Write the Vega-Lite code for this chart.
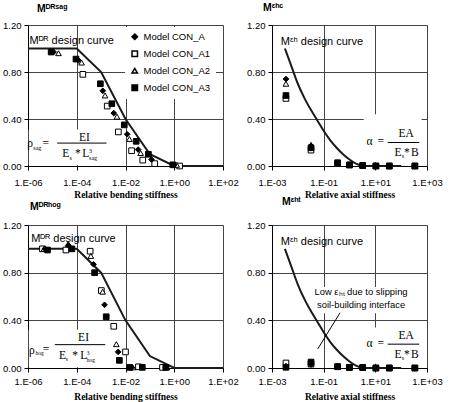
{
  "$schema": "https://vega.github.io/schema/vega-lite/v6.json",
  "background": "white",
  "padding": {"left": 2, "top": 2, "right": 2, "bottom": 2},
  "config": {
    "font": "Liberation Sans",
    "view": {"stroke": null},
    "axis": {
      "domainColor": "black", "domainWidth": 1, "tickColor": "black", "tickSize": 4,
      "gridColor": "#444444", "gridWidth": 1, "gridOpacity": 1,
      "labelFont": "Liberation Sans", "labelFontSize": 9.5, "labelColor": "black",
      "titleFont": "Liberation Sans Narrow", "titleFontSize": 9.5, "titleFontWeight": "bold", "titleColor": "black",
      "labelOverlap": false
    },
    "axisX": {"labelFlush": false, "labelPadding": 7, "titlePadding": 3},
    "axisY": {"labelPadding": 3},
    "title": {"anchor": "start", "frame": "group", "font": "Liberation Sans", "fontSize": 10.5, "fontWeight": "bold", "color": "black"},
    "text": {"color": "black"}
  },
  "datasets": {
    "sag": [
      {"m": "Model CON_A1", "x": 0.000178, "y": 0.78},
      {"m": "Model CON_A1", "x": 0.00178, "y": 0.51},
      {"m": "Model CON_A1", "x": 0.0051, "y": 0.29},
      {"m": "Model CON_A1", "x": 0.0178, "y": 0.13},
      {"m": "Model CON_A1", "x": 0.051, "y": 0.05},
      {"m": "Model CON_A1", "x": 0.158, "y": 0.02},
      {"m": "Model CON_A1", "x": 1.66, "y": 0.0},
      {"m": "Model CON_A2", "x": 0.0000178, "y": 0.96},
      {"m": "Model CON_A2", "x": 0.000158, "y": 0.88},
      {"m": "Model CON_A2", "x": 0.00145, "y": 0.60},
      {"m": "Model CON_A2", "x": 0.00447, "y": 0.42},
      {"m": "Model CON_A2", "x": 0.0145, "y": 0.23},
      {"m": "Model CON_A2", "x": 0.0417, "y": 0.11},
      {"m": "Model CON_A2", "x": 1.26, "y": 0.01},
      {"m": "Model CON_A", "x": 0.0000112, "y": 0.97},
      {"m": "Model CON_A", "x": 0.000117, "y": 0.90},
      {"m": "Model CON_A", "x": 0.00117, "y": 0.64},
      {"m": "Model CON_A", "x": 0.0033, "y": 0.45},
      {"m": "Model CON_A", "x": 0.0117, "y": 0.27},
      {"m": "Model CON_A", "x": 0.033, "y": 0.14},
      {"m": "Model CON_A", "x": 0.117, "y": 0.055},
      {"m": "Model CON_A", "x": 1.0, "y": 0.01},
      {"m": "Model CON_A3", "x": 0.0000089, "y": 0.97},
      {"m": "Model CON_A3", "x": 0.000093, "y": 0.91},
      {"m": "Model CON_A3", "x": 0.00093, "y": 0.70},
      {"m": "Model CON_A3", "x": 0.00275, "y": 0.53},
      {"m": "Model CON_A3", "x": 0.0089, "y": 0.35},
      {"m": "Model CON_A3", "x": 0.0275, "y": 0.21},
      {"m": "Model CON_A3", "x": 0.087, "y": 0.10},
      {"m": "Model CON_A3", "x": 0.87, "y": 0.01}
    ],
    "hog": [
      {"m": "Model CON_A1", "x": 0.0000039, "y": 1.0},
      {"m": "Model CON_A1", "x": 0.000036, "y": 0.99},
      {"m": "Model CON_A1", "x": 0.000355, "y": 0.98},
      {"m": "Model CON_A1", "x": 0.00102, "y": 0.65},
      {"m": "Model CON_A1", "x": 0.0033, "y": 0.35},
      {"m": "Model CON_A1", "x": 0.01, "y": 0.135},
      {"m": "Model CON_A1", "x": 0.034, "y": 0.01},
      {"m": "Model CON_A1", "x": 0.33, "y": 0.005},
      {"m": "Model CON_A2", "x": 0.0000045, "y": 1.0},
      {"m": "Model CON_A2", "x": 0.000045, "y": 1.04},
      {"m": "Model CON_A2", "x": 0.00038, "y": 0.94},
      {"m": "Model CON_A2", "x": 0.00115, "y": 0.64},
      {"m": "Model CON_A2", "x": 0.0042, "y": 0.20},
      {"m": "Model CON_A2", "x": 0.02, "y": 0.005},
      {"m": "Model CON_A2", "x": 0.5, "y": 0.005},
      {"m": "Model CON_A", "x": 0.000005, "y": 1.0},
      {"m": "Model CON_A", "x": 0.000045, "y": 1.03},
      {"m": "Model CON_A", "x": 0.00049, "y": 0.87},
      {"m": "Model CON_A", "x": 0.00138, "y": 0.53},
      {"m": "Model CON_A", "x": 0.005, "y": 0.135},
      {"m": "Model CON_A", "x": 0.0178, "y": 0.005},
      {"m": "Model CON_A", "x": 0.45, "y": 0.005},
      {"m": "Model CON_A3", "x": 0.0000063, "y": 0.99},
      {"m": "Model CON_A3", "x": 0.000063, "y": 1.0},
      {"m": "Model CON_A3", "x": 0.00054, "y": 0.80},
      {"m": "Model CON_A3", "x": 0.00162, "y": 0.43},
      {"m": "Model CON_A3", "x": 0.0056, "y": 0.064},
      {"m": "Model CON_A3", "x": 0.0148, "y": 0.005},
      {"m": "Model CON_A3", "x": 0.049, "y": 0.005},
      {"m": "Model CON_A3", "x": 0.45, "y": 0.005}
    ],
    "hc": [
      {"m": "Model CON_A1", "x": 0.00347, "y": 0.575},
      {"m": "Model CON_A1", "x": 0.0324, "y": 0.135},
      {"m": "Model CON_A1", "x": 0.347, "y": 0.02},
      {"m": "Model CON_A1", "x": 1.0, "y": 0.008},
      {"m": "Model CON_A1", "x": 3.24, "y": 0.003},
      {"m": "Model CON_A1", "x": 10.5, "y": 0.0},
      {"m": "Model CON_A1", "x": 34.7, "y": 0.0},
      {"m": "Model CON_A1", "x": 339, "y": 0.0},
      {"m": "Model CON_A2", "x": 0.00347, "y": 0.70},
      {"m": "Model CON_A2", "x": 0.0324, "y": 0.18},
      {"m": "Model CON_A2", "x": 0.347, "y": 0.025},
      {"m": "Model CON_A2", "x": 1.0, "y": 0.01},
      {"m": "Model CON_A2", "x": 3.24, "y": 0.005},
      {"m": "Model CON_A2", "x": 10.5, "y": 0.0},
      {"m": "Model CON_A2", "x": 34.7, "y": 0.0},
      {"m": "Model CON_A2", "x": 339, "y": 0.0},
      {"m": "Model CON_A", "x": 0.00347, "y": 0.74},
      {"m": "Model CON_A", "x": 0.0324, "y": 0.17},
      {"m": "Model CON_A", "x": 0.347, "y": 0.025},
      {"m": "Model CON_A", "x": 1.0, "y": 0.01},
      {"m": "Model CON_A", "x": 3.24, "y": 0.005},
      {"m": "Model CON_A", "x": 10.5, "y": 0.0},
      {"m": "Model CON_A", "x": 34.7, "y": 0.0},
      {"m": "Model CON_A", "x": 339, "y": 0.0},
      {"m": "Model CON_A3", "x": 0.00347, "y": 0.60},
      {"m": "Model CON_A3", "x": 0.0324, "y": 0.155},
      {"m": "Model CON_A3", "x": 0.347, "y": 0.028},
      {"m": "Model CON_A3", "x": 1.0, "y": 0.01},
      {"m": "Model CON_A3", "x": 3.24, "y": 0.005},
      {"m": "Model CON_A3", "x": 10.5, "y": 0.0},
      {"m": "Model CON_A3", "x": 34.7, "y": 0.0},
      {"m": "Model CON_A3", "x": 339, "y": 0.0}
    ],
    "ht": [
      {"m": "Model CON_A1", "x": 0.00347, "y": 0.042},
      {"m": "Model CON_A1", "x": 0.0324, "y": 0.035},
      {"m": "Model CON_A1", "x": 0.347, "y": 0.01},
      {"m": "Model CON_A1", "x": 1.0, "y": 0.005},
      {"m": "Model CON_A1", "x": 3.24, "y": 0.003},
      {"m": "Model CON_A1", "x": 10.5, "y": 0.0},
      {"m": "Model CON_A1", "x": 34.7, "y": 0.0},
      {"m": "Model CON_A1", "x": 339, "y": 0.0},
      {"m": "Model CON_A2", "x": 0.00347, "y": 0.02},
      {"m": "Model CON_A2", "x": 0.0324, "y": 0.03},
      {"m": "Model CON_A2", "x": 0.347, "y": 0.01},
      {"m": "Model CON_A2", "x": 1.0, "y": 0.005},
      {"m": "Model CON_A2", "x": 3.24, "y": 0.005},
      {"m": "Model CON_A2", "x": 10.5, "y": 0.0},
      {"m": "Model CON_A2", "x": 34.7, "y": 0.0},
      {"m": "Model CON_A2", "x": 339, "y": 0.0},
      {"m": "Model CON_A", "x": 0.00347, "y": 0.01},
      {"m": "Model CON_A", "x": 0.0324, "y": 0.03},
      {"m": "Model CON_A", "x": 0.347, "y": 0.01},
      {"m": "Model CON_A", "x": 1.0, "y": 0.005},
      {"m": "Model CON_A", "x": 3.24, "y": 0.005},
      {"m": "Model CON_A", "x": 10.5, "y": 0.0},
      {"m": "Model CON_A", "x": 34.7, "y": 0.0},
      {"m": "Model CON_A", "x": 339, "y": 0.0},
      {"m": "Model CON_A3", "x": 0.00347, "y": 0.006},
      {"m": "Model CON_A3", "x": 0.0324, "y": 0.05},
      {"m": "Model CON_A3", "x": 0.347, "y": 0.012},
      {"m": "Model CON_A3", "x": 1.0, "y": 0.005},
      {"m": "Model CON_A3", "x": 3.24, "y": 0.005},
      {"m": "Model CON_A3", "x": 10.5, "y": 0.0},
      {"m": "Model CON_A3", "x": 34.7, "y": 0.0},
      {"m": "Model CON_A3", "x": 339, "y": 0.0}
    ],
    "drcurve": [
      {"x": 0.000001, "y": 1.0}, {"x": 0.0001, "y": 1.0}, {"x": 0.001, "y": 0.8},
      {"x": 0.01, "y": 0.4}, {"x": 0.1, "y": 0.1}, {"x": 1, "y": 0.0}, {"x": 100, "y": 0.0}
    ],
    "ehcurve": [
      {"x": 0.00316, "y": 1.0}, {"x": 0.00562, "y": 0.85}, {"x": 0.01, "y": 0.70},
      {"x": 0.0178, "y": 0.58}, {"x": 0.0316, "y": 0.48}, {"x": 0.0562, "y": 0.39},
      {"x": 0.1, "y": 0.30}, {"x": 0.178, "y": 0.22}, {"x": 0.316, "y": 0.155},
      {"x": 0.562, "y": 0.10}, {"x": 1.0, "y": 0.055}, {"x": 1.78, "y": 0.02},
      {"x": 3.16, "y": 0.003}, {"x": 5.62, "y": 0.0}, {"x": 100, "y": 0.0}
    ],
    "boxes": [
      {"p": 1, "x": 0.00000107, "x2": 0.0018, "y": 0.006, "y2": 0.31},
      {"p": 3, "x": 0.00000107, "x2": 0.0022, "y": 0.006, "y2": 0.32},
      {"p": 2, "x": 3.55, "x2": 616, "y": 0.035, "y2": 0.44},
      {"p": 4, "x": 3.55, "x2": 616, "y": 0.035, "y2": 0.34},
      {"p": 4, "x": 0.0457, "x2": 186, "y": 0.46, "y2": 0.68}
    ],
    "rules": [
      {"p": 1, "x": 0.0000158, "x2": 0.00166, "y": 0.195, "y2": 0.195},
      {"p": 3, "x": 0.0000126, "x2": 0.00148, "y": 0.196, "y2": 0.196},
      {"p": 2, "x": 30, "x2": 500, "y": 0.2, "y2": 0.2},
      {"p": 4, "x": 30, "x2": 500, "y": 0.2, "y2": 0.2},
      {"p": 4, "x": 0.43, "x2": 0.059, "y": 0.463, "y2": 0.16}
    ],
    "sans": [
      {"p": 1, "x": 0.00000115, "y": 1.035, "t": "Mᴰᴿ design curve"},
      {"p": 3, "x": 0.00000135, "y": 1.06, "t": "Mᴰᴿ design curve"},
      {"p": 2, "x": 0.0022, "y": 1.03, "t": "Mᵋʰ design curve"},
      {"p": 4, "x": 0.0022, "y": 1.036, "t": "Mᵋʰ design curve"}
    ],
    "anno": [
      {"p": 4, "x": 2.8, "y": 0.64, "t": "Low εₕₜ due to slipping"},
      {"p": 4, "x": 2.8, "y": 0.525, "t": "soil-building interface"}
    ],
    "bigc": [
      {"p": 1, "x": 0.00000123, "y": 0.165, "t": "ρ"},
      {"p": 1, "x": 0.0000054, "y": 0.16, "t": "="},
      {"p": 1, "x": 0.000204, "y": 0.214, "t": "EI"},
      {"p": 1, "x": 0.00011, "y": 0.074, "t": "*"},
      {"p": 3, "x": 0.00000145, "y": 0.116, "t": "ρ"},
      {"p": 3, "x": 0.0000055, "y": 0.126, "t": "="},
      {"p": 3, "x": 0.00019, "y": 0.224, "t": "EI"},
      {"p": 3, "x": 0.000085, "y": 0.072, "t": "*"},
      {"p": 2, "x": 5.9, "y": 0.18, "t": "α"},
      {"p": 2, "x": 16.2, "y": 0.18, "t": "="},
      {"p": 2, "x": 155, "y": 0.244, "t": "EA"},
      {"p": 2, "x": 166, "y": 0.084, "t": "*"},
      {"p": 4, "x": 5.9, "y": 0.18, "t": "α"},
      {"p": 4, "x": 16.2, "y": 0.18, "t": "="},
      {"p": 4, "x": 155, "y": 0.244, "t": "EA"},
      {"p": 4, "x": 166, "y": 0.084, "t": "*"}
    ],
    "bigl": [
      {"p": 1, "x": 0.0000257, "y": 0.074, "t": "E"},
      {"p": 1, "x": 0.00017, "y": 0.074, "t": "L"},
      {"p": 3, "x": 0.0000186, "y": 0.072, "t": "E"},
      {"p": 3, "x": 0.000138, "y": 0.072, "t": "L"},
      {"p": 2, "x": 55, "y": 0.084, "t": "E"},
      {"p": 2, "x": 240, "y": 0.084, "t": "B"},
      {"p": 4, "x": 55, "y": 0.084, "t": "E"},
      {"p": 4, "x": 240, "y": 0.084, "t": "B"}
    ],
    "small": [
      {"p": 1, "x": 0.00000166, "y": 0.14, "t": "sag"},
      {"p": 1, "x": 0.00005, "y": 0.055, "t": "s"},
      {"p": 1, "x": 0.00032, "y": 0.11, "t": "3"},
      {"p": 1, "x": 0.00032, "y": 0.05, "t": "sag"},
      {"p": 3, "x": 0.00000205, "y": 0.106, "t": "hog"},
      {"p": 3, "x": 0.000035, "y": 0.055, "t": "s"},
      {"p": 3, "x": 0.00026, "y": 0.11, "t": "3"},
      {"p": 3, "x": 0.00026, "y": 0.048, "t": "hog"},
      {"p": 2, "x": 105, "y": 0.065, "t": "s"},
      {"p": 4, "x": 105, "y": 0.065, "t": "s"}
    ]
  },
  "columns": 2,
  "bounds": "flush",
  "spacing": {"row": 59, "column": 49},
  "resolve": {
    "scale": {"shape": "independent", "fill": "independent"},
    "legend": {"shape": "independent", "fill": "independent"}
  },
  "concat": [
    {
      "width": 195, "height": 141,
      "title": {"text": "Mᴰᴿˢᵃᵍ", "dx": 9, "offset": 6},
      "layer": [
        {
          "data": {"name": "boxes"},
          "transform": [{"filter": "datum.p == 1"}],
          "mark": {"type": "rect", "fill": "white"},
          "encoding": {
            "x": {"field": "x", "type": "quantitative", "scale": {"type": "log", "domain": [0.000001, 100], "nice": false},
              "axis": {"title": "Relative bending stiffness", "values": [0.000001, 0.0001, 0.01, 1, 100], "grid": true,
                "labelExpr": "datum.value < 0.00001 ? '1.E-06' : datum.value < 0.001 ? '1.E-04' : datum.value < 0.1 ? '1.E-02' : datum.value < 10 ? '1.E+00' : '1.E+02'"}},
            "x2": {"field": "x2"},
            "y": {"field": "y", "type": "quantitative", "scale": {"domain": [0, 1.2], "nice": false, "zero": false},
              "axis": {"title": null, "values": [0, 0.2, 0.4, 0.6, 0.8, 1, 1.2], "format": ".2f", "grid": true}},
            "y2": {"field": "y2"}
          }
        },
        {
          "data": {"name": "drcurve"},
          "mark": {"type": "line", "color": "#1a1a1a", "strokeWidth": 2},
          "encoding": {
            "x": {"field": "x", "type": "quantitative"},
            "y": {"field": "y", "type": "quantitative"}
          }
        },
        {
          "data": {"name": "sag"},
          "mark": {"type": "point", "filled": true, "stroke": "black", "strokeWidth": 1, "size": 32, "opacity": 1},
          "encoding": {
            "x": {"field": "x", "type": "quantitative"},
            "y": {"field": "y", "type": "quantitative"},
            "shape": {"field": "m", "type": "nominal",
              "scale": {"domain": ["Model CON_A", "Model CON_A1", "Model CON_A2", "Model CON_A3"], "range": ["diamond", "square", "triangle-up", "square"]},
              "legend": {"orient": "none", "legendX": 97, "legendY": 2, "title": null, "fillColor": "white", "padding": 5,
                "labelFont": "Liberation Sans", "labelFontSize": 9.5, "labelColor": "black", "symbolSize": 30, "rowPadding": 5,
                "labelOffset": 4,
                "encode": {"symbols": {"update": {"stroke": {"value": "black"}, "strokeWidth": {"value": 1}}}}}},
            "fill": {"field": "m", "type": "nominal",
              "scale": {"domain": ["Model CON_A", "Model CON_A1", "Model CON_A2", "Model CON_A3"], "range": ["black", "white", "white", "black"]},
              "legend": {"orient": "none", "legendX": 97, "legendY": 2, "title": null, "fillColor": "white", "padding": 5,
                "labelFont": "Liberation Sans", "labelFontSize": 9.5, "labelColor": "black", "symbolSize": 30, "rowPadding": 5,
                "labelOffset": 4,
                "encode": {"symbols": {"update": {"stroke": {"value": "black"}, "strokeWidth": {"value": 1}}}}}}
          }
        },
        {
          "data": {"name": "sans"},
          "transform": [{"filter": "datum.p == 1"}],
          "mark": {"type": "text", "font": "Liberation Sans", "fontSize": 11, "align": "left", "baseline": "alphabetic"},
          "encoding": {"x": {"field": "x", "type": "quantitative"}, "y": {"field": "y", "type": "quantitative"}, "text": {"field": "t"}}
        },
        {
          "data": {"name": "bigc"},
          "transform": [{"filter": "datum.p == 1"}],
          "mark": {"type": "text", "font": "Liberation Serif", "fontSize": 11.5, "align": "center", "baseline": "alphabetic"},
          "encoding": {"x": {"field": "x", "type": "quantitative"}, "y": {"field": "y", "type": "quantitative"}, "text": {"field": "t"}}
        },
        {
          "data": {"name": "bigl"},
          "transform": [{"filter": "datum.p == 1"}],
          "mark": {"type": "text", "font": "Liberation Serif", "fontSize": 11.5, "align": "left", "baseline": "alphabetic"},
          "encoding": {"x": {"field": "x", "type": "quantitative"}, "y": {"field": "y", "type": "quantitative"}, "text": {"field": "t"}}
        },
        {
          "data": {"name": "small"},
          "transform": [{"filter": "datum.p == 1"}],
          "mark": {"type": "text", "font": "Liberation Serif", "fontSize": 6, "align": "left", "baseline": "alphabetic"},
          "encoding": {"x": {"field": "x", "type": "quantitative"}, "y": {"field": "y", "type": "quantitative"}, "text": {"field": "t"}}
        },
        {
          "data": {"name": "rules"},
          "transform": [{"filter": "datum.p == 1"}],
          "mark": {"type": "rule", "color": "black", "strokeWidth": 1},
          "encoding": {"x": {"field": "x", "type": "quantitative"}, "x2": {"field": "x2"}, "y": {"field": "y", "type": "quantitative"}, "y2": {"field": "y2"}}
        }
      ]
    },
    {
      "width": 155, "height": 141,
      "title": {"text": "Mᵋʰᶜ", "dx": -9, "offset": 7},
      "layer": [
        {
          "data": {"name": "boxes"},
          "transform": [{"filter": "datum.p == 2"}],
          "mark": {"type": "rect", "fill": "white"},
          "encoding": {
            "x": {"field": "x", "type": "quantitative", "scale": {"type": "log", "domain": [0.001, 1000], "nice": false},
              "axis": {"title": "Relative axial stiffness", "values": [0.001, 0.1, 10, 1000], "grid": true,
                "labelExpr": "datum.value < 0.01 ? '1.E-03' : datum.value < 1 ? '1.E-01' : datum.value < 100 ? '1.E+01' : '1.E+03'"}},
            "x2": {"field": "x2"},
            "y": {"field": "y", "type": "quantitative", "scale": {"domain": [0, 1.2], "nice": false, "zero": false},
              "axis": {"title": null, "values": [0, 0.2, 0.4, 0.6, 0.8, 1, 1.2], "format": ".2f", "grid": true}},
            "y2": {"field": "y2"}
          }
        },
        {
          "data": {"name": "ehcurve"},
          "mark": {"type": "line", "color": "#1a1a1a", "strokeWidth": 2, "interpolate": "monotone"},
          "encoding": {
            "x": {"field": "x", "type": "quantitative"},
            "y": {"field": "y", "type": "quantitative"}
          }
        },
        {
          "data": {"name": "hc"},
          "mark": {"type": "point", "filled": true, "stroke": "black", "strokeWidth": 1, "size": 32, "opacity": 1},
          "encoding": {
            "x": {"field": "x", "type": "quantitative"},
            "y": {"field": "y", "type": "quantitative"},
            "shape": {"field": "m", "type": "nominal", "legend": null,
              "scale": {"domain": ["Model CON_A", "Model CON_A1", "Model CON_A2", "Model CON_A3"], "range": ["diamond", "square", "triangle-up", "square"]}},
            "fill": {"field": "m", "type": "nominal", "legend": null,
              "scale": {"domain": ["Model CON_A", "Model CON_A1", "Model CON_A2", "Model CON_A3"], "range": ["black", "white", "white", "black"]}}
          }
        },
        {
          "data": {"name": "sans"},
          "transform": [{"filter": "datum.p == 2"}],
          "mark": {"type": "text", "font": "Liberation Sans", "fontSize": 11, "align": "left", "baseline": "alphabetic"},
          "encoding": {"x": {"field": "x", "type": "quantitative"}, "y": {"field": "y", "type": "quantitative"}, "text": {"field": "t"}}
        },
        {
          "data": {"name": "bigc"},
          "transform": [{"filter": "datum.p == 2"}],
          "mark": {"type": "text", "font": "Liberation Serif", "fontSize": 11.5, "align": "center", "baseline": "alphabetic"},
          "encoding": {"x": {"field": "x", "type": "quantitative"}, "y": {"field": "y", "type": "quantitative"}, "text": {"field": "t"}}
        },
        {
          "data": {"name": "bigl"},
          "transform": [{"filter": "datum.p == 2"}],
          "mark": {"type": "text", "font": "Liberation Serif", "fontSize": 11.5, "align": "left", "baseline": "alphabetic"},
          "encoding": {"x": {"field": "x", "type": "quantitative"}, "y": {"field": "y", "type": "quantitative"}, "text": {"field": "t"}}
        },
        {
          "data": {"name": "small"},
          "transform": [{"filter": "datum.p == 2"}],
          "mark": {"type": "text", "font": "Liberation Serif", "fontSize": 6, "align": "left", "baseline": "alphabetic"},
          "encoding": {"x": {"field": "x", "type": "quantitative"}, "y": {"field": "y", "type": "quantitative"}, "text": {"field": "t"}}
        },
        {
          "data": {"name": "rules"},
          "transform": [{"filter": "datum.p == 2"}],
          "mark": {"type": "rule", "color": "black", "strokeWidth": 1},
          "encoding": {"x": {"field": "x", "type": "quantitative"}, "x2": {"field": "x2"}, "y": {"field": "y", "type": "quantitative"}, "y2": {"field": "y2"}}
        }
      ]
    },
    {
      "width": 195, "height": 143,
      "title": {"text": "Mᴰᴿʰᵒᵍ", "dx": 2, "offset": 8},
      "layer": [
        {
          "data": {"name": "boxes"},
          "transform": [{"filter": "datum.p == 3"}],
          "mark": {"type": "rect", "fill": "white"},
          "encoding": {
            "x": {"field": "x", "type": "quantitative", "scale": {"type": "log", "domain": [0.000001, 100], "nice": false},
              "axis": {"title": "Relative bending stiffness", "values": [0.000001, 0.0001, 0.01, 1, 100], "grid": true, "labelPadding": 4, "titlePadding": 6,
                "labelExpr": "datum.value < 0.00001 ? '1.E-06' : datum.value < 0.001 ? '1.E-04' : datum.value < 0.1 ? '1.E-02' : datum.value < 10 ? '1.E+00' : '1.E+02'"}},
            "x2": {"field": "x2"},
            "y": {"field": "y", "type": "quantitative", "scale": {"domain": [0, 1.2], "nice": false, "zero": false},
              "axis": {"title": null, "values": [0, 0.2, 0.4, 0.6, 0.8, 1, 1.2], "format": ".2f", "grid": true}},
            "y2": {"field": "y2"}
          }
        },
        {
          "data": {"name": "drcurve"},
          "mark": {"type": "line", "color": "#1a1a1a", "strokeWidth": 2},
          "encoding": {
            "x": {"field": "x", "type": "quantitative"},
            "y": {"field": "y", "type": "quantitative"}
          }
        },
        {
          "data": {"name": "hog"},
          "mark": {"type": "point", "filled": true, "stroke": "black", "strokeWidth": 1, "size": 32, "opacity": 1},
          "encoding": {
            "x": {"field": "x", "type": "quantitative"},
            "y": {"field": "y", "type": "quantitative"},
            "shape": {"field": "m", "type": "nominal", "legend": null,
              "scale": {"domain": ["Model CON_A", "Model CON_A1", "Model CON_A2", "Model CON_A3"], "range": ["diamond", "square", "triangle-up", "square"]}},
            "fill": {"field": "m", "type": "nominal", "legend": null,
              "scale": {"domain": ["Model CON_A", "Model CON_A1", "Model CON_A2", "Model CON_A3"], "range": ["black", "white", "white", "black"]}}
          }
        },
        {
          "data": {"name": "sans"},
          "transform": [{"filter": "datum.p == 3"}],
          "mark": {"type": "text", "font": "Liberation Sans", "fontSize": 11, "align": "left", "baseline": "alphabetic"},
          "encoding": {"x": {"field": "x", "type": "quantitative"}, "y": {"field": "y", "type": "quantitative"}, "text": {"field": "t"}}
        },
        {
          "data": {"name": "bigc"},
          "transform": [{"filter": "datum.p == 3"}],
          "mark": {"type": "text", "font": "Liberation Serif", "fontSize": 11.5, "align": "center", "baseline": "alphabetic"},
          "encoding": {"x": {"field": "x", "type": "quantitative"}, "y": {"field": "y", "type": "quantitative"}, "text": {"field": "t"}}
        },
        {
          "data": {"name": "bigl"},
          "transform": [{"filter": "datum.p == 3"}],
          "mark": {"type": "text", "font": "Liberation Serif", "fontSize": 11.5, "align": "left", "baseline": "alphabetic"},
          "encoding": {"x": {"field": "x", "type": "quantitative"}, "y": {"field": "y", "type": "quantitative"}, "text": {"field": "t"}}
        },
        {
          "data": {"name": "small"},
          "transform": [{"filter": "datum.p == 3"}],
          "mark": {"type": "text", "font": "Liberation Serif", "fontSize": 5.5, "align": "left", "baseline": "alphabetic"},
          "encoding": {"x": {"field": "x", "type": "quantitative"}, "y": {"field": "y", "type": "quantitative"}, "text": {"field": "t"}}
        },
        {
          "data": {"name": "rules"},
          "transform": [{"filter": "datum.p == 3"}],
          "mark": {"type": "rule", "color": "black", "strokeWidth": 1},
          "encoding": {"x": {"field": "x", "type": "quantitative"}, "x2": {"field": "x2"}, "y": {"field": "y", "type": "quantitative"}, "y2": {"field": "y2"}}
        }
      ]
    },
    {
      "width": 155, "height": 143,
      "title": {"text": "Mᵋʰᵗ", "dx": 10, "offset": 13},
      "layer": [
        {
          "data": {"name": "boxes"},
          "transform": [{"filter": "datum.p == 4"}],
          "mark": {"type": "rect", "fill": "white"},
          "encoding": {
            "x": {"field": "x", "type": "quantitative", "scale": {"type": "log", "domain": [0.001, 1000], "nice": false},
              "axis": {"title": "Relative axial stiffness", "values": [0.001, 0.1, 10, 1000], "grid": true, "labelPadding": 4, "titlePadding": 6,
                "labelExpr": "datum.value < 0.01 ? '1.E-03' : datum.value < 1 ? '1.E-01' : datum.value < 100 ? '1.E+01' : '1.E+03'"}},
            "x2": {"field": "x2"},
            "y": {"field": "y", "type": "quantitative", "scale": {"domain": [0, 1.2], "nice": false, "zero": false},
              "axis": {"title": null, "values": [0, 0.2, 0.4, 0.6, 0.8, 1, 1.2], "format": ".2f", "grid": true}},
            "y2": {"field": "y2"}
          }
        },
        {
          "data": {"name": "ehcurve"},
          "mark": {"type": "line", "color": "#1a1a1a", "strokeWidth": 2, "interpolate": "monotone"},
          "encoding": {
            "x": {"field": "x", "type": "quantitative"},
            "y": {"field": "y", "type": "quantitative"}
          }
        },
        {
          "data": {"name": "ht"},
          "mark": {"type": "point", "filled": true, "stroke": "black", "strokeWidth": 1, "size": 32, "opacity": 1},
          "encoding": {
            "x": {"field": "x", "type": "quantitative"},
            "y": {"field": "y", "type": "quantitative"},
            "shape": {"field": "m", "type": "nominal", "legend": null,
              "scale": {"domain": ["Model CON_A", "Model CON_A1", "Model CON_A2", "Model CON_A3"], "range": ["diamond", "square", "triangle-up", "square"]}},
            "fill": {"field": "m", "type": "nominal", "legend": null,
              "scale": {"domain": ["Model CON_A", "Model CON_A1", "Model CON_A2", "Model CON_A3"], "range": ["black", "white", "white", "black"]}}
          }
        },
        {
          "data": {"name": "sans"},
          "transform": [{"filter": "datum.p == 4"}],
          "mark": {"type": "text", "font": "Liberation Sans", "fontSize": 11, "align": "left", "baseline": "alphabetic"},
          "encoding": {"x": {"field": "x", "type": "quantitative"}, "y": {"field": "y", "type": "quantitative"}, "text": {"field": "t"}}
        },
        {
          "data": {"name": "anno"},
          "mark": {"type": "text", "font": "Liberation Sans", "fontSize": 9.4, "align": "center", "baseline": "middle"},
          "encoding": {"x": {"field": "x", "type": "quantitative"}, "y": {"field": "y", "type": "quantitative"}, "text": {"field": "t"}}
        },
        {
          "data": {"name": "bigc"},
          "transform": [{"filter": "datum.p == 4"}],
          "mark": {"type": "text", "font": "Liberation Serif", "fontSize": 11.5, "align": "center", "baseline": "alphabetic"},
          "encoding": {"x": {"field": "x", "type": "quantitative"}, "y": {"field": "y", "type": "quantitative"}, "text": {"field": "t"}}
        },
        {
          "data": {"name": "bigl"},
          "transform": [{"filter": "datum.p == 4"}],
          "mark": {"type": "text", "font": "Liberation Serif", "fontSize": 11.5, "align": "left", "baseline": "alphabetic"},
          "encoding": {"x": {"field": "x", "type": "quantitative"}, "y": {"field": "y", "type": "quantitative"}, "text": {"field": "t"}}
        },
        {
          "data": {"name": "small"},
          "transform": [{"filter": "datum.p == 4"}],
          "mark": {"type": "text", "font": "Liberation Serif", "fontSize": 6, "align": "left", "baseline": "alphabetic"},
          "encoding": {"x": {"field": "x", "type": "quantitative"}, "y": {"field": "y", "type": "quantitative"}, "text": {"field": "t"}}
        },
        {
          "data": {"name": "rules"},
          "transform": [{"filter": "datum.p == 4"}],
          "mark": {"type": "rule", "color": "black", "strokeWidth": 1},
          "encoding": {"x": {"field": "x", "type": "quantitative"}, "x2": {"field": "x2"}, "y": {"field": "y", "type": "quantitative"}, "y2": {"field": "y2"}}
        }
      ]
    }
  ]
}
